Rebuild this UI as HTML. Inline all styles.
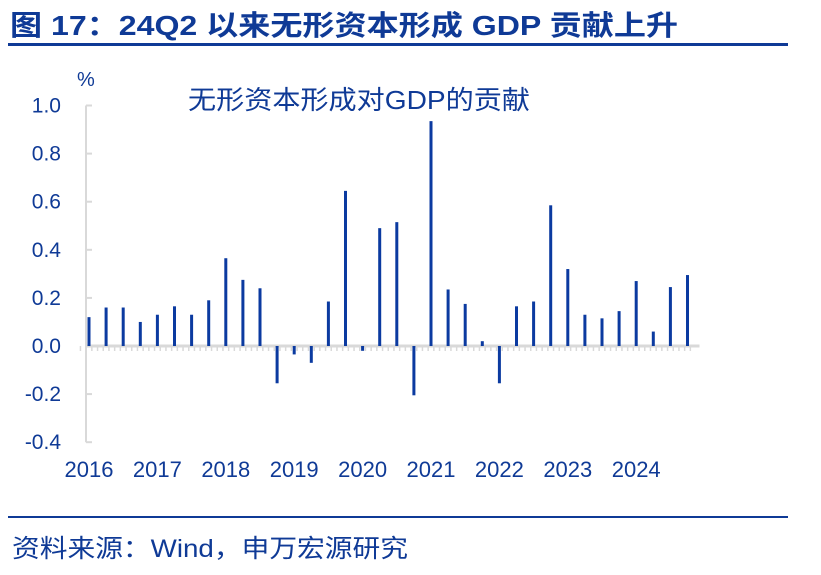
<!DOCTYPE html>
<html><head><meta charset="utf-8">
<style>
body{margin:0;width:821px;height:570px;background:#fff;overflow:hidden;font-family:"Liberation Sans","Noto Sans CJK SC",sans-serif;}
</style></head>
<body>
<svg width="821" height="570" xmlns="http://www.w3.org/2000/svg" id="svg">
<text x="10" y="35" font-size="28" font-weight="bold" fill="#0f3a96" font-family="Liberation Sans, Noto Sans CJK SC, sans-serif" textLength="668" lengthAdjust="spacingAndGlyphs">图 17：24Q2 以来无形资本形成 GDP 贡献上升</text>
<rect x="8" y="43" width="780" height="3" fill="#0f3a96"/>
<text x="77" y="86" font-size="20" fill="#0f3a96">%</text>
<text x="188" y="109" font-size="26" fill="#0f3a96" font-family="Liberation Sans, Noto Sans CJK SC, sans-serif" textLength="342" lengthAdjust="spacingAndGlyphs">无形资本形成对GDP的贡献</text>
<g id="axes"></g>
<g id="bars"></g>
<rect x="8" y="516" width="780" height="2" fill="#0f3a96"/>
<text x="12" y="557" font-size="25" fill="#0f3a96" font-family="Liberation Sans, Noto Sans CJK SC, sans-serif" textLength="396" lengthAdjust="spacingAndGlyphs">资料来源：Wind，申万宏源研究</text>
</svg>
<script>
const categories=["16Q1","16Q2","16Q3","16Q4","17Q1","17Q2","17Q3","17Q4","18Q1","18Q2","18Q3","18Q4","19Q1","19Q2","19Q3","19Q4","20Q1","20Q2","20Q3","20Q4","21Q1","21Q2","21Q3","21Q4","22Q1","22Q2","22Q3","22Q4","23Q1","23Q2","23Q3","23Q4","24Q1","24Q2","24Q3","24Q4"];
const values=[0.12,0.16,0.16,0.10,0.13,0.165,0.13,0.19,0.365,0.275,0.24,-0.155,-0.035,-0.07,0.185,0.645,-0.02,0.49,0.515,-0.205,0.935,0.235,0.175,0.02,-0.155,0.165,0.185,0.585,0.32,0.13,0.115,0.145,0.27,0.06,0.245,0.295];
const yTicks=[-0.4,-0.2,0.0,0.2,0.4,0.6,0.8,1.0];
const yTickLabels=["-0.4","-0.2","0.0","0.2","0.4","0.6","0.8","1.0"];
const yearLabels=["2016","2017","2018","2019","2020","2021","2022","2023","2024"];

const NS="http://www.w3.org/2000/svg";
const y0=346, pxPer=240.5, x0=89, step=17.1;
function yS(v){return y0-v*pxPer;}
function xS(i){return x0+i*step;}
function mk(t,a,p){const e=document.createElementNS(NS,t);for(const k in a)e.setAttribute(k,a[k]);p.appendChild(e);return e;}
const ax=document.getElementById('axes'), bg=document.getElementById('bars');
const yl=mk('line',{x1:86,x2:86,y1:yS(1.0),y2:yS(-0.4),stroke:'#d9d9d9','stroke-width':2},ax);


yTicks.forEach((v,i)=>{
  const t=mk('line',{x1:86,x2:92,y1:yS(v),y2:yS(v),stroke:'#d9d9d9','stroke-width':2},ax);
  
  
  const l=mk('text',{x:61,y:yS(v)+7,'font-size':21,fill:'#0f3a96','text-anchor':'end'},ax);
  l.textContent=yTickLabels[i];
  
  
});
const zl=mk('line',{x1:86,x2:xS(categories.length-1)+12,y1:yS(0),y2:yS(0),stroke:'#d9d9d9','stroke-width':3},ax);


for(let m=0;m<categories.length*3;m++){
  const x=xS(0)-step/2+m*step/3;
  const t=mk('line',{x1:x,x2:x,y1:yS(0),y2:yS(0)+5,stroke:'#d9d9d9','stroke-width':1.5},ax);
  
  
}
yearLabels.forEach((y,i)=>{
  const l=mk('text',{x:xS(i*4),y:477,'font-size':22,fill:'#0f3a96','text-anchor':'middle'},ax);
  l.textContent=y;
  
  
});
values.forEach((v,i)=>{
  const top=Math.min(yS(v),yS(0)),h=Math.abs(yS(v)-yS(0));
  const r=mk('rect',{x:xS(i)-1.5,y:top,width:3,height:Math.max(h,1),fill:'#0b3aa0'},bg);
  
  
});
</script>
</body></html>
